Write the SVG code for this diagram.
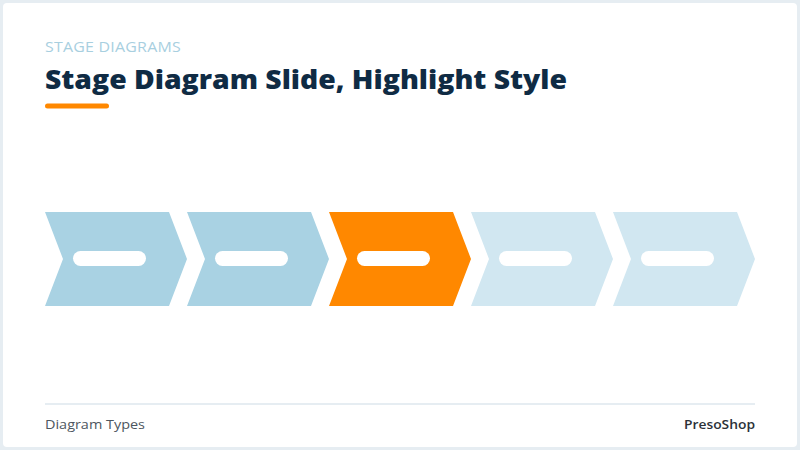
<svg xmlns="http://www.w3.org/2000/svg" width="800" height="450" viewBox="0 0 800 450">
  <defs>
    <style>
      .dark { fill: #a9d2e3; }
      .hl { fill: #ff8800; }
      .light { fill: #d1e7f1; }
      .pill { fill: #ffffff; }
      .kicker { font-family: "Open Sans", "Noto Sans", sans-serif; font-size: 14px; fill: #a8cfdf; letter-spacing: 0.2px; }
      .title { font-family: "Open Sans", "Noto Sans", sans-serif; font-weight: 800; font-size: 27px; fill: #0f2b44; }
      .foot { font-family: "Open Sans", "Noto Sans", sans-serif; font-size: 13px; fill: #4d5660; }
      .brand { font-family: "Open Sans", "Noto Sans", sans-serif; font-size: 13px; font-weight: 600; fill: #2b3138; }
    </style>
    <path id="chev" d="M0,0 L124,0 L142,47 L124,94 L0,94 L18,47 Z"/>
  </defs>
  <rect x="0" y="0" width="800" height="450" fill="#e6edf2"/>
  <rect x="3" y="3" width="794" height="444" rx="4" fill="#ffffff"/>

  <g id="header">
    <text class="kicker" x="45" y="52" textLength="136" lengthAdjust="spacingAndGlyphs">STAGE DIAGRAMS</text>
    <text class="title" x="45" y="89" textLength="522" lengthAdjust="spacingAndGlyphs">Stage Diagram Slide, Highlight Style</text>
    <rect x="45" y="103.5" width="64" height="5" rx="2.5" fill="#ff8800"/>
  </g>

  <g id="connectors"></g>

  <g id="stage1">
    <use href="#chev" class="dark" x="45" y="212"/>
    <rect class="pill" x="73" y="251" width="73" height="15" rx="7.5"/>
  </g>
  <g id="stage2">
    <use href="#chev" class="dark" x="187" y="212"/>
    <rect class="pill" x="215" y="251" width="73" height="15" rx="7.5"/>
  </g>
  <g id="stage3">
    <use href="#chev" class="hl" x="329" y="212"/>
    <rect class="pill" x="357" y="251" width="73" height="15" rx="7.5"/>
  </g>
  <g id="stage4">
    <use href="#chev" class="light" x="471" y="212"/>
    <rect class="pill" x="499" y="251" width="73" height="15" rx="7.5"/>
  </g>
  <g id="stage5">
    <use href="#chev" class="light" x="613" y="212"/>
    <rect class="pill" x="641" y="251" width="73" height="15" rx="7.5"/>
  </g>

  <g id="footer">
    <line x1="45" y1="404" x2="755" y2="404" stroke="#e6edf2" stroke-width="2"/>
    <text class="foot" x="45" y="429" textLength="100" lengthAdjust="spacingAndGlyphs">Diagram Types</text>
    <text class="brand" x="684" y="429" textLength="71" lengthAdjust="spacingAndGlyphs">PresoShop</text>
  </g>
</svg>
